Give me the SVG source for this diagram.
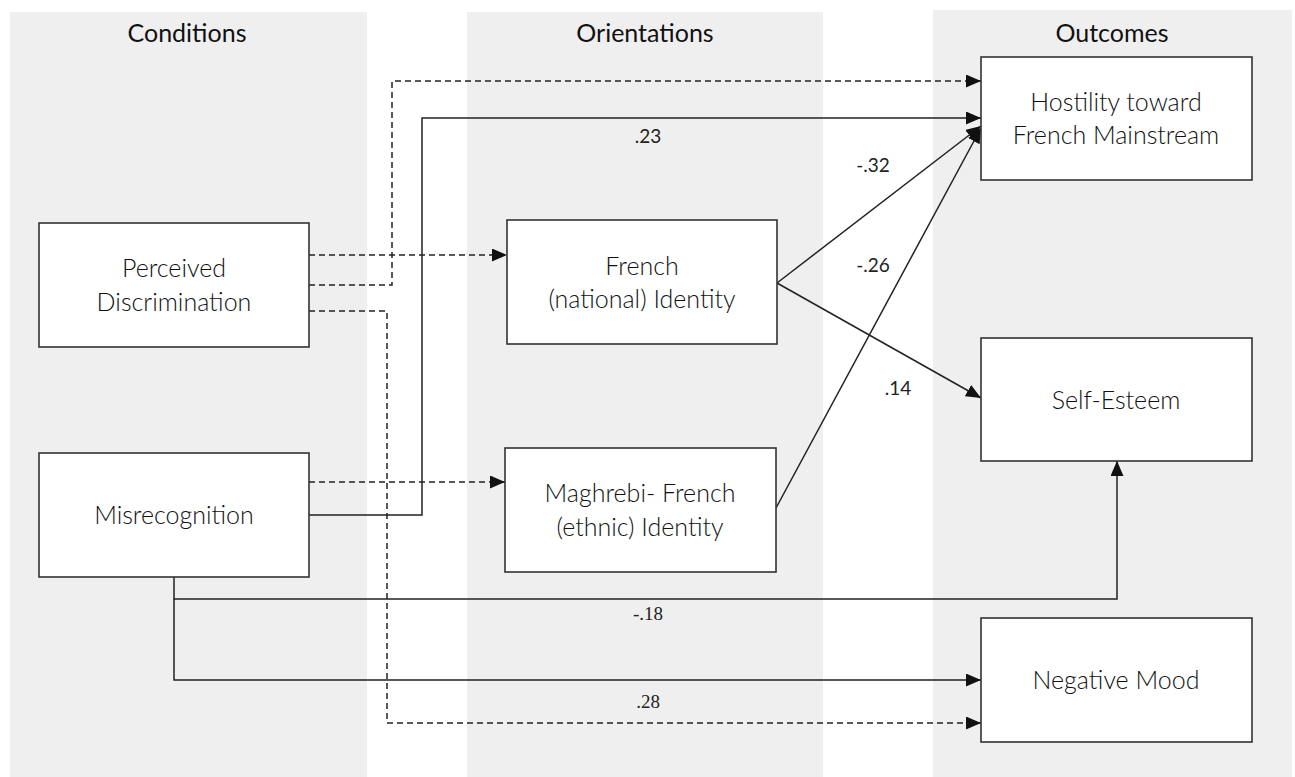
<svg xmlns="http://www.w3.org/2000/svg" width="1295" height="777" viewBox="0 0 1295 777">
<defs>
<style>
.col{fill:#efefef}
.title{font-family:Lato,"Liberation Sans",sans-serif;font-size:25px;fill:#111;text-anchor:middle}
.box{fill:#fff;stroke:#333;stroke-width:1.6}
.nt{font-family:Lato,"Liberation Sans",sans-serif;font-size:25px;font-weight:300;fill:#111;text-anchor:middle}
.ln{fill:none;stroke:#222;stroke-width:1.5}
.dash{stroke-dasharray:6 4}
.lbl{font-family:Lato,"Liberation Sans",sans-serif;font-size:19px;fill:#222;text-anchor:middle}
.lbls{font-family:"Liberation Serif",serif;font-size:19px;fill:#222;text-anchor:middle}
</style>
<marker id="ah" viewBox="0 0 15 13" refX="15" refY="6.5" markerWidth="15" markerHeight="13" markerUnits="userSpaceOnUse" orient="auto">
<path d="M0,0 L15,6.5 L0,13 Z" fill="#111"/>
</marker>
</defs>
<rect width="1295" height="777" fill="#fff"/>
<g id="columns">
<rect class="col" x="10" y="12" width="357" height="765"/>
<rect class="col" x="467" y="12" width="356" height="765"/>
<rect class="col" x="933" y="10" width="359" height="767"/>
<text class="title" x="187" y="42">Conditions</text>
<text class="title" x="645" y="42">Orientations</text>
<text class="title" x="1112" y="42">Outcomes</text>
</g>
<g id="connectors">
<path class="ln dash" d="M309,285 H392 V81 H981" marker-end="url(#ah)"/>
<path class="ln dash" d="M309,255 H507" marker-end="url(#ah)"/>
<path class="ln dash" d="M309,311 H387 V723 H981" marker-end="url(#ah)"/>
<path class="ln" d="M309,515 H422 V118 H981" marker-end="url(#ah)"/>
<path class="ln dash" d="M309,482 H505" marker-end="url(#ah)"/>
<path class="ln" d="M174,577 V599 H1117 V461" marker-end="url(#ah)"/>
<path class="ln" d="M174,599 V680 H981" marker-end="url(#ah)"/>
<path class="ln" d="M777,283 L981,126" marker-end="url(#ah)"/>
<path class="ln" d="M776,508 L981,128" marker-end="url(#ah)"/>
<path class="ln" d="M777,283 L981,398" marker-end="url(#ah)"/>
<text class="lbl" x="648" y="143">.23</text>
<text class="lbl" x="873" y="172">-.32</text>
<text class="lbl" x="873" y="272">-.26</text>
<text class="lbl" x="898" y="395">.14</text>
<text class="lbls" x="648" y="620">-.18</text>
<text class="lbls" x="648" y="708">.28</text>
</g>
<g id="perceived-discrimination">
<rect class="box" x="39" y="223" width="270" height="124"/>
<text class="nt" x="174" y="277">Perceived</text>
<text class="nt" x="174" y="311">Discrimination</text>
</g>
<g id="misrecognition">
<rect class="box" x="39" y="453" width="270" height="124"/>
<text class="nt" x="174" y="524">Misrecognition</text>
</g>
<g id="french-identity">
<rect class="box" x="507" y="220" width="270" height="124"/>
<text class="nt" x="642" y="275">French</text>
<text class="nt" x="642" y="308">(national) Identity</text>
</g>
<g id="maghrebi-identity">
<rect class="box" x="505" y="448" width="271" height="124"/>
<text class="nt" x="640" y="502">Maghrebi- French</text>
<text class="nt" x="640" y="536">(ethnic) Identity</text>
</g>
<g id="hostility">
<rect class="box" x="981" y="57" width="271" height="123"/>
<text class="nt" x="1116" y="111">Hostility toward</text>
<text class="nt" x="1116" y="144">French Mainstream</text>
</g>
<g id="self-esteem">
<rect class="box" x="981" y="338" width="271" height="123"/>
<text class="nt" x="1116" y="409">Self-Esteem</text>
</g>
<g id="negative-mood">
<rect class="box" x="981" y="618" width="271" height="124"/>
<text class="nt" x="1116" y="689">Negative Mood</text>
</g>
</svg>
